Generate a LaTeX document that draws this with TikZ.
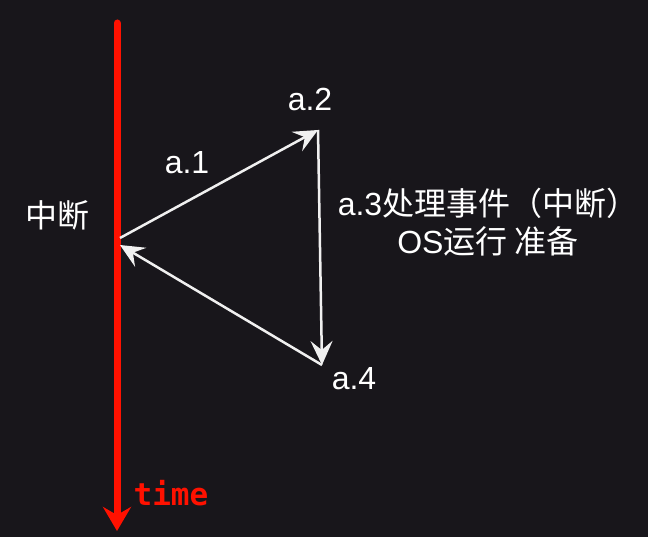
\documentclass[tikz,border=0pt]{standalone}
\usepackage{fontspec}
\setmainfont{Liberation Sans}
\newfontfamily\cjk{Noto Sans CJK SC}
\newfontfamily\codefont{DejaVu Sans Mono}
\usetikzlibrary{arrows.meta,backgrounds}
\definecolor{bgdark}{RGB}{24,22,27}
\definecolor{timered}{RGB}{255,17,0}
\definecolor{flow}{RGB}{240,240,240}

\begin{document}
\begin{tikzpicture}[
  x=1pt, y=-1pt,
  show background rectangle,
  background rectangle/.style={fill=bgdark},
  inner frame sep=0pt,
  color=white,
  label/.style={inner sep=0pt, anchor=base, font=\fontsize{32}{38}\selectfont},
  flowline/.style={draw=flow, line width=2.5pt, -{Stealth[length=24pt,width=22pt,inset=9pt]}},
  ]
  \useasboundingbox (0,0) rectangle (648,537);

  % time axis
  \coordinate (start) at (117,23);
  \coordinate (end) at (117,531);
  \draw[timered, line width=7pt, line cap=round, -{Stealth[length=24pt,width=28pt,inset=8pt]}] (start) -- (end);
  \node[label, timered, font=\codefont\bfseries\fontsize{31}{36}\selectfont] (time) at (171,505) {time};

  % interrupt cycle
  \coordinate (irq) at (120,238);
  \coordinate (a2p) at (318,130);
  \coordinate (a4p) at (322,365);
  \coordinate (back) at (120,245);

  \draw[flowline] (irq) -- (a2p);
  \draw[flowline] (a2p) -- (a4p);
  \draw[flowline] (a4p) -- (back);

  \node[label] (irqlabel) at (57,228) {\cjk 中断};
  \node[label] (a1) at (187,174) {a.1};
  \node[label] (a2) at (310,111) {a.2};
  \node[label] (a4) at (354,389) {a.4};
  \node[label, align=center] (a3) at (488,254) {a.3{\cjk 处理事件（中断）}\\OS{\cjk 运行 准备}};

\end{tikzpicture}
\end{document}
